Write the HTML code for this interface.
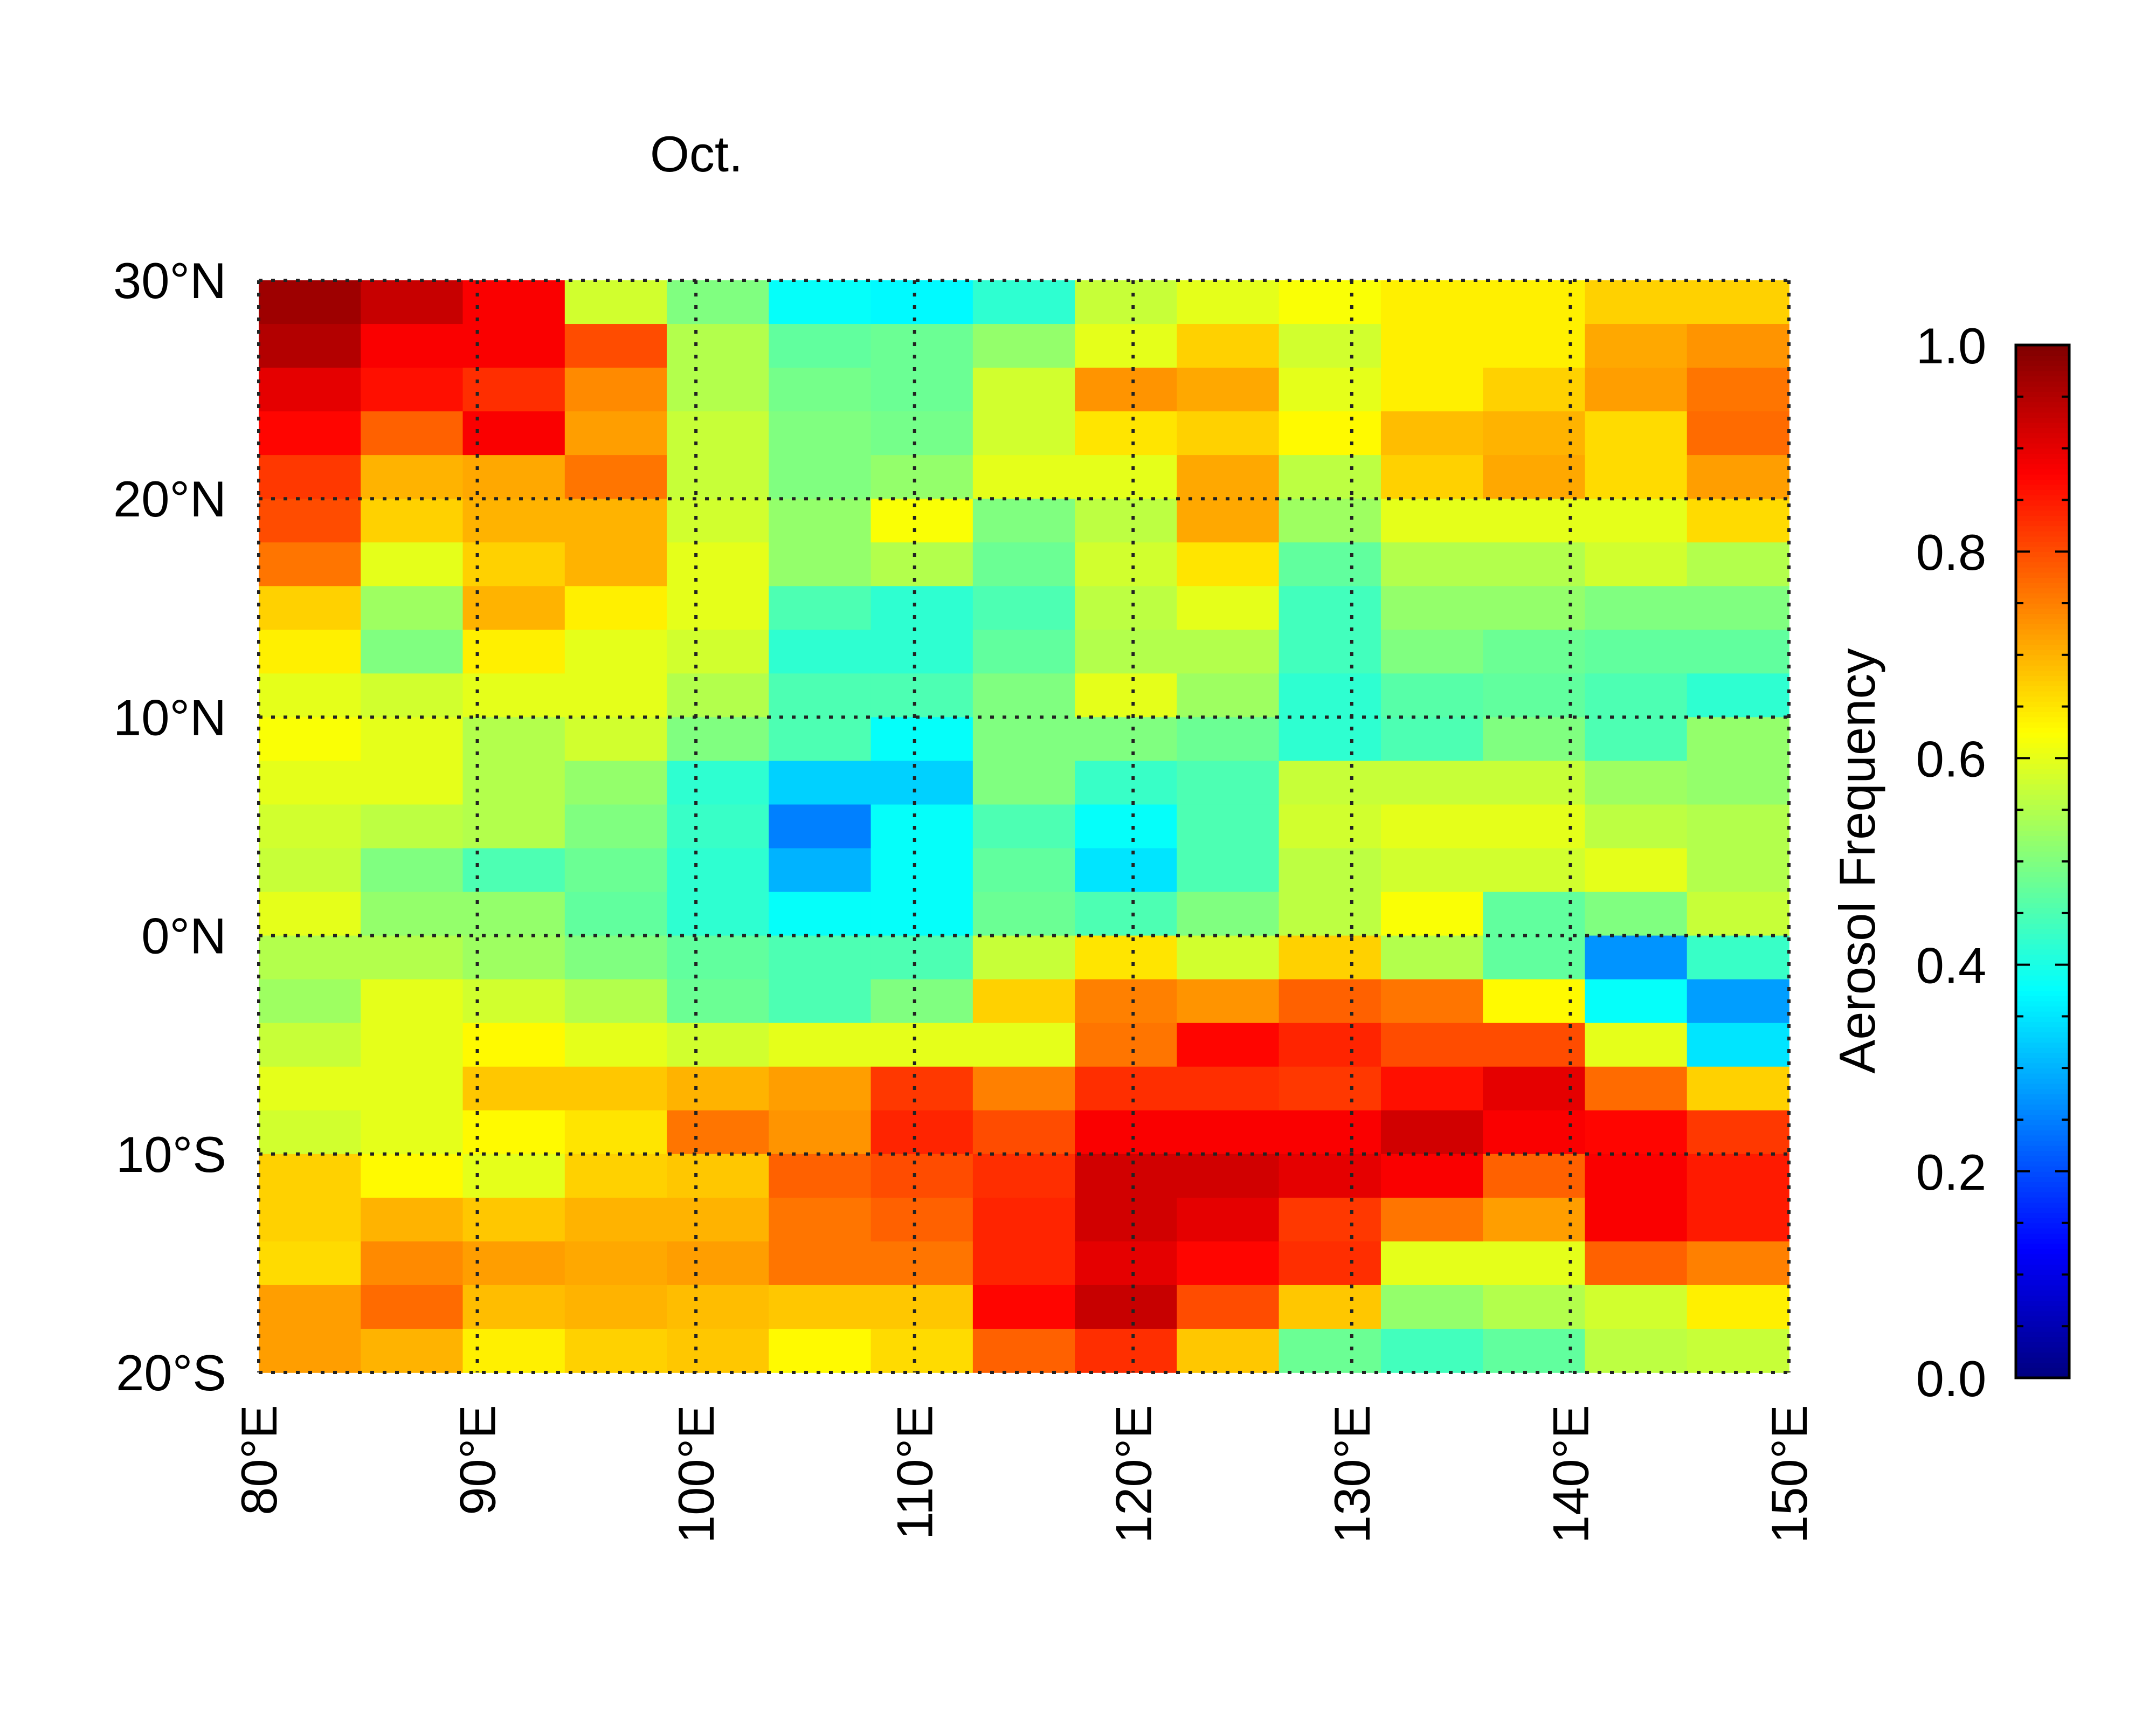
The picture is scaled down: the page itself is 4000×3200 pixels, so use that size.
<!DOCTYPE html>
<html><head><meta charset="utf-8"><style>
html,body{margin:0;padding:0;background:#fff;}
svg{display:block;}
text{font-family:"Liberation Sans",sans-serif;fill:#000;}
</style></head><body>
<svg id="chart" xmlns="http://www.w3.org/2000/svg" width="4000" height="3200" viewBox="0 0 4000 3200">
<text x="1292" y="318" font-size="94" text-anchor="middle">Oct.</text>
<g id="cells"></g>
<g id="grid"></g>
<g id="axes"></g>
<g id="cbar"></g>
<text transform="translate(3478,1597) rotate(-90)" font-size="94" text-anchor="middle">Aerosol Frequency</text>
</svg>
<script>
const lonMin = 80, lonMax = 150, latMin = -20, latMax = 30;
const lonTicks = [80, 90, 100, 110, 120, 130, 140, 150];
const lonTickLabels = ["80°E","90°E","100°E","110°E","120°E","130°E","140°E","150°E"];
const latTicks = [30, 20, 10, 0, -10, -20];
const latTickLabels = ["30°N","20°N","10°N","0°N","10°S","20°S"];
const cbarTicks = [0, 0.2, 0.4, 0.6, 0.8, 1.0];
const cbarTickLabels = ["0.0","0.2","0.4","0.6","0.8","1.0"];
// rows from north (28-30N) to south (-20..-18), 15 columns each (80E..150E)
const values = [
[0.97,0.93,0.88,0.58,0.50,0.38,0.37,0.42,0.57,0.60,0.62,0.64,0.64,0.67,0.67],
[0.95,0.88,0.88,0.80,0.55,0.47,0.48,0.52,0.60,0.67,0.58,0.64,0.64,0.71,0.73],
[0.90,0.86,0.83,0.74,0.55,0.49,0.48,0.58,0.73,0.71,0.60,0.64,0.67,0.72,0.76],
[0.87,0.78,0.88,0.72,0.57,0.50,0.49,0.58,0.65,0.67,0.63,0.69,0.70,0.66,0.77],
[0.82,0.70,0.71,0.76,0.57,0.50,0.52,0.60,0.60,0.71,0.56,0.67,0.71,0.66,0.72],
[0.80,0.67,0.70,0.70,0.58,0.52,0.62,0.50,0.56,0.71,0.53,0.60,0.60,0.60,0.66],
[0.76,0.60,0.67,0.70,0.60,0.52,0.55,0.48,0.58,0.65,0.47,0.55,0.55,0.58,0.55],
[0.67,0.53,0.70,0.64,0.60,0.45,0.42,0.45,0.56,0.60,0.44,0.52,0.52,0.50,0.50],
[0.64,0.50,0.64,0.60,0.58,0.42,0.42,0.47,0.55,0.55,0.44,0.50,0.48,0.47,0.47],
[0.60,0.58,0.60,0.60,0.55,0.45,0.45,0.50,0.60,0.53,0.42,0.46,0.47,0.45,0.42],
[0.62,0.60,0.55,0.58,0.50,0.45,0.38,0.50,0.50,0.48,0.42,0.45,0.50,0.45,0.52],
[0.60,0.60,0.55,0.52,0.42,0.33,0.33,0.50,0.43,0.45,0.57,0.57,0.57,0.53,0.52],
[0.58,0.56,0.55,0.50,0.43,0.25,0.38,0.45,0.38,0.45,0.58,0.60,0.60,0.56,0.55],
[0.57,0.50,0.45,0.48,0.42,0.30,0.38,0.47,0.35,0.45,0.56,0.58,0.58,0.60,0.55],
[0.60,0.52,0.52,0.47,0.42,0.38,0.38,0.48,0.45,0.50,0.56,0.62,0.47,0.50,0.57],
[0.55,0.55,0.53,0.50,0.47,0.45,0.45,0.57,0.65,0.58,0.67,0.55,0.47,0.27,0.43],
[0.53,0.60,0.58,0.55,0.48,0.45,0.50,0.67,0.75,0.73,0.78,0.76,0.63,0.38,0.28],
[0.57,0.60,0.63,0.60,0.58,0.60,0.60,0.60,0.76,0.87,0.84,0.80,0.80,0.60,0.35],
[0.60,0.60,0.68,0.68,0.70,0.72,0.82,0.75,0.83,0.83,0.82,0.86,0.90,0.77,0.67],
[0.58,0.60,0.63,0.65,0.76,0.73,0.84,0.80,0.88,0.88,0.88,0.92,0.88,0.87,0.82],
[0.67,0.63,0.60,0.67,0.68,0.78,0.80,0.83,0.92,0.92,0.90,0.88,0.78,0.88,0.85],
[0.67,0.70,0.68,0.70,0.70,0.76,0.78,0.84,0.92,0.90,0.82,0.76,0.72,0.88,0.85],
[0.66,0.74,0.72,0.71,0.72,0.76,0.76,0.84,0.90,0.87,0.83,0.60,0.60,0.78,0.75],
[0.72,0.77,0.69,0.70,0.69,0.68,0.68,0.87,0.93,0.80,0.68,0.52,0.55,0.58,0.64],
[0.72,0.70,0.64,0.67,0.68,0.63,0.66,0.78,0.83,0.68,0.48,0.44,0.47,0.56,0.57]
];

const NS = "http://www.w3.org/2000/svg";
const PX0 = 480, PX1 = 3319, PY0 = 520, PY1 = 2546;
const CX0 = 3740, CX1 = 3839, CY0 = 640, CY1 = 2556;
function xScale(lon){ return PX0 + (lon - lonMin) / (lonMax - lonMin) * (PX1 - PX0); }
function yScale(lat){ return PY0 + (latMax - lat) / (latMax - latMin) * (PY1 - PY0); }
function cScale(v){ return CY1 - v * (CY1 - CY0); }
function jet(v){
  v = Math.max(0, Math.min(1, v));
  function c(x){ return Math.max(0, Math.min(1, x)); }
  const r = c(Math.min(4*v - 1.5, -4*v + 4.5));
  const g = c(Math.min(4*v - 0.5, -4*v + 3.5));
  const b = c(Math.min(4*v + 0.5, -4*v + 2.5));
  return "rgb(" + Math.round(r*255) + "," + Math.round(g*255) + "," + Math.round(b*255) + ")";
}
function mk(tag, attrs, parent){
  const e = document.createElementNS(NS, tag);
  for (const k in attrs) e.setAttribute(k, attrs[k]);
  parent.appendChild(e);
  return e;
}
const cells = document.getElementById("cells");
const nR = values.length, nC = values[0].length;
const dLon = (lonMax - lonMin) / nC, dLat = (latMax - latMin) / nR;
for (let r = 0; r < nR; r++) {
  for (let c = 0; c < nC; c++) {
    const lon0 = lonMin + c*dLon, lat1 = latMax - r*dLat;
    const x0 = xScale(lon0), x1 = xScale(lon0 + dLon), y0 = yScale(lat1), y1 = yScale(lat1 - dLat);
    const el = mk("rect", {x: x0, y: y0, width: x1 - x0 + 0.8, height: y1 - y0 + 0.8, fill: jet(values[r][c])}, cells);
    
    
  }
}
const grid = document.getElementById("grid");
lonTicks.forEach(function(lon){
  const el = mk("line", {x1: xScale(lon), x2: xScale(lon), y1: PY0, y2: PY1, stroke: "#222", "stroke-width": 6, "stroke-dasharray": "7 16"}, grid);
  
  
});
latTicks.forEach(function(lat){
  const el = mk("line", {x1: PX0, x2: PX1, y1: yScale(lat), y2: yScale(lat), stroke: "#222", "stroke-width": 6, "stroke-dasharray": "7 16"}, grid);
  
  
});
const axes = document.getElementById("axes");
lonTicks.forEach(function(lon, i){
  const x = xScale(lon);
  const t = mk("text", {transform: "translate(" + (x + 33) + "," + (PY1 + 60) + ") rotate(-90)", "font-size": 94, "text-anchor": "end"}, axes);
  t.textContent = lonTickLabels[i];
  
  
});
latTicks.forEach(function(lat, i){
  const t = mk("text", {x: PX0 - 60, y: yScale(lat) + 33, "font-size": 94, "text-anchor": "end"}, axes);
  t.textContent = latTickLabels[i];
  
  
});
const cbar = document.getElementById("cbar");
const nSteps = 200;
for (let i = 0; i < nSteps; i++) {
  const v0 = i / nSteps, v1 = (i + 1) / nSteps;
  const el = mk("rect", {x: CX0, y: cScale(v1), width: CX1 - CX0, height: cScale(v0) - cScale(v1) + 0.8, fill: jet((v0 + v1) / 2)}, cbar);
  
  
}
const frame = mk("rect", {x: CX0, y: CY0, width: CX1 - CX0, height: CY1 - CY0, fill: "none", stroke: "#000", "stroke-width": 5}, cbar);


for (let k = 0; k <= 20; k++) {
  const v = k / 20, y = cScale(v), len = (k % 4 === 0) ? 26 : 14;
  const a = mk("line", {x1: CX0, x2: CX0 + len, y1: y, y2: y, stroke: "#000", "stroke-width": 4}, cbar);
  
  
  const b = mk("line", {x1: CX1 - len, x2: CX1, y1: y, y2: y, stroke: "#000", "stroke-width": 4}, cbar);
  
  
}
cbarTicks.forEach(function(v, i){
  const t = mk("text", {x: 3620, y: cScale(v) + 34, "font-size": 94, "text-anchor": "middle"}, cbar);
  t.textContent = cbarTickLabels[i];
  
  
});
</script>
</body></html>
